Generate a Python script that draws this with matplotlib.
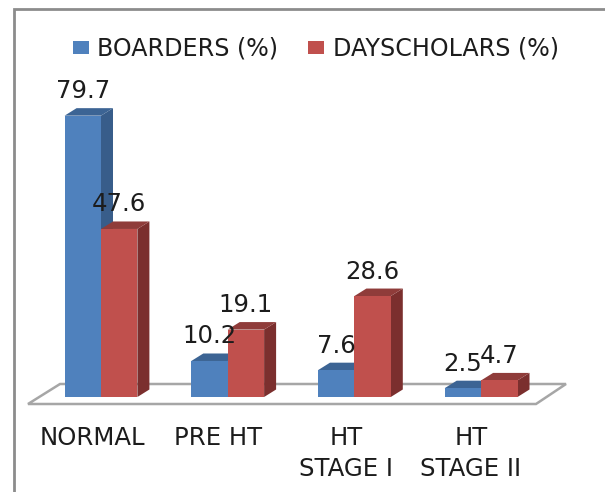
import matplotlib
matplotlib.use("Agg")
import matplotlib.pyplot as plt
from matplotlib.patches import Polygon, Rectangle

categories = ["NORMAL", "PRE HT", "HT\nSTAGE I", "HT\nSTAGE II"]
boarders = [79.7, 10.2, 7.6, 2.5]
dayscholars = [47.6, 19.1, 28.6, 4.7]
series_names = ["BOARDERS (%)", "DAYSCHOLARS (%)"]

W, H = 605, 492
PX_X = 126.7   # px per category
PX_Y = 3.53    # px per percentage point
X0, Y0 = 101.0, 397.0
plt.rcParams['font.family'] = ['DejaVu Sans']

fig = plt.figure(figsize=(W / 100, H / 100), dpi=100)
ax = fig.add_axes([0, 0, 1, 1])
ax.set_xlim(-X0 / PX_X, (W - X0) / PX_X)
ax.set_ylim(-(H - Y0) / PX_Y, Y0 / PX_Y)
ax.axis("off")

dx = 12.0 / PX_X
dy = 7.5 / PX_Y
bw = 36.4 / PX_X
TEXT = "#1c1c1c"


def px(x, y):
    return ((x - X0) / PX_X, (Y0 - y) / PX_Y)


# chart frame
ax.plot(*zip(px(13.5, H + 5), px(13.5, 8.5), px(W + 5, 8.5)), color="#8c8c8c", lw=2.0,
        solid_joinstyle="miter", zorder=1)
# floor
ax.add_patch(Polygon([px(28, 404), px(536, 404), px(566, 384), px(60, 384)], closed=True,
                     fc="white", ec="#a6a6a6", lw=1.8, zorder=2))


def bar3d(x, v, front, top, side, z):
    ax.add_patch(Polygon([(x + bw, 0), (x + bw + dx, dy), (x + bw + dx, v + dy), (x + bw, v)],
                         fc=side, ec="none", zorder=z))
    ax.add_patch(Polygon([(x, v), (x + dx, v + dy), (x + bw + dx, v + dy), (x + bw, v)],
                         fc=top, ec="none", zorder=z))
    ax.add_patch(Rectangle((x, 0), bw, v, fc=front, ec="none", zorder=z))


for i in range(len(categories)):
    bar3d(i - bw, boarders[i], "#4f81bd", "#3c6494", "#385d8a", 3 + i * 0.1)
    bar3d(i, dayscholars[i], "#c0504d", "#8f3c3a", "#7b2f2e", 3.05 + i * 0.1)

VAL_FS = 17.6
lift = 17.5 / PX_Y
for i in range(len(categories)):
    ax.text(i - bw * 0.5, boarders[i] + lift, f"{boarders[i]}", ha="center", va="baseline",
            fontsize=VAL_FS, color=TEXT, zorder=6)
    ax.text(i + bw * 0.5, dayscholars[i] + lift, f"{dayscholars[i]}", ha="center", va="baseline",
            fontsize=VAL_FS, color=TEXT, zorder=6)

# category labels
label_centres = [92.5, 218.5, 346, 471]
for lab, cx in zip(categories, label_centres):
    for line, base in zip(lab.split("\n"), [445, 476]):
        ax.text(*px(cx, base), line, ha="center", va="baseline", fontsize=17.6, color=TEXT)

# legend
for name, c, sx, tx in zip(series_names, ["#4f81bd", "#c0504d"], [72.7, 307.5], [97, 333]):
    ax.add_patch(Rectangle(px(sx, 54), 16 / PX_X, 13.5 / PX_Y, fc=c, ec="none", zorder=5))
    ax.text(*px(tx, 55), name, ha="left", va="baseline", fontsize=17.1, color=TEXT)

fig.savefig("out.png", dpi=100)
